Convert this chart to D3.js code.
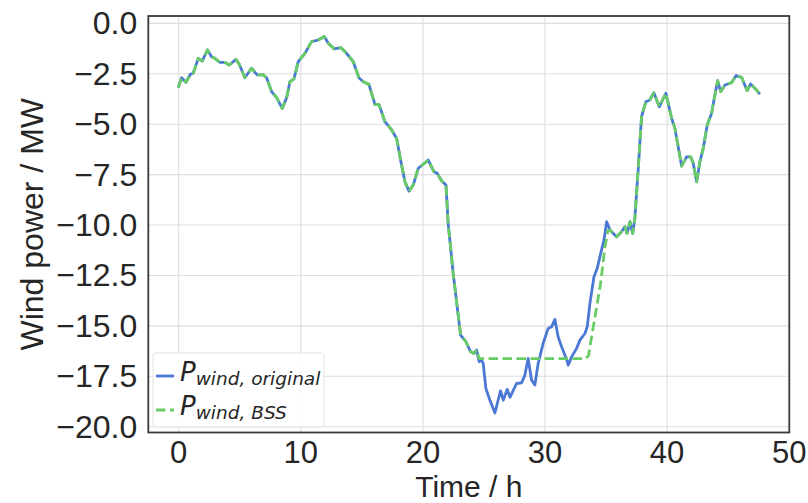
<!DOCTYPE html>
<html lang="en">
    <head>
        <meta charset="UTF-8">
        <title>Wind power</title>
        <script src="https://d3js.org/d3.v7.min.js"></script>
        <style>
            body{ margin: 0; background: white; }
            svg{ display: block; }
        </style>
    </head>
    <body>
        <script>
            // time in hours
            const timeH = [0, 0.28, 0.63, 1.0, 1.23, 1.64, 1.97, 2.4, 2.73, 3.0,
                3.42, 3.82, 4.18, 4.73, 5.0, 5.46, 6.0, 6.47, 6.96, 7.24,
                7.65, 8.06, 8.52, 8.88, 9.15, 9.48, 9.83, 10.38, 10.92, 11.47,
                11.96, 12.29, 12.78, 13.33, 13.79, 14.33, 14.8, 15.15, 15.62, 16.11,
                16.44, 16.93, 17.48, 17.89, 18.24, 18.57, 18.9, 19.25, 19.66, 20.07,
                20.48, 20.94, 21.21, 21.57, 21.93, 22.11, 22.52, 22.85, 23.13, 23.56,
                23.95, 24.22, 24.44, 24.65, 24.85, 24.98, 25.2, 25.53, 25.94, 26.4,
                26.62, 26.95, 27.17, 27.71, 28.12, 28.39, 28.66, 28.94, 29.21, 29.48,
                29.89, 30.3, 30.58, 30.85, 31.12, 31.4, 31.81, 31.94, 32.22, 32.63,
                32.9, 33.31, 33.5, 33.72, 34.05, 34.32, 34.6, 34.87, 35.09, 35.36,
                35.9, 36.31, 36.58, 36.77, 37.0, 37.22, 37.4, 37.67, 37.95, 38.3,
                38.63, 38.96, 39.4, 39.94, 40.41, 40.68, 40.95, 41.23, 41.64, 41.97,
                42.18, 42.46, 42.73, 43.0, 43.33, 43.69, 43.88, 44.18, 44.43, 44.78,
                45.32, 45.68, 46.14, 46.6, 46.88, 47.31, 47.64]

            const windOriginal = [-3.21, -2.72, -2.95, -2.55, -2.5, -1.76, -1.89, -1.34, -1.68, -1.76,
                -1.96, -1.96, -2.09, -1.81, -2.05, -2.72, -2.25, -2.58, -2.58, -2.72,
                -3.41, -3.71, -4.24, -3.71, -2.92, -2.78, -1.92, -1.51, -0.93, -0.85,
                -0.68, -1.01, -1.29, -1.23, -1.51, -1.92, -2.72, -2.92, -3.05, -4.04,
                -4.04, -4.9, -5.31, -5.73, -6.88, -7.88, -8.34, -8.04, -7.21, -7.01,
                -6.8, -7.38, -7.46, -7.83, -8.04, -9.94, -12.42, -14.08, -15.48, -15.81,
                -16.31, -16.39, -16.22, -16.8, -16.72, -16.89, -18.13, -18.71, -19.34, -18.24,
                -18.71, -18.17, -18.57, -17.88, -17.85, -17.47, -16.64, -17.71, -17.96, -16.89,
                -15.89, -15.15, -15.07, -14.7, -15.57, -16.06, -16.69, -16.97, -16.56, -16.14,
                -15.73, -15.4, -15.07, -13.91, -12.59, -12.17, -11.43, -10.77, -9.86, -10.27,
                -10.61, -10.36, -10.11, -10.44, -9.86, -10.44, -9.69, -7.3, -4.65, -3.91,
                -3.82, -3.46, -4.16, -3.49, -4.73, -5.23, -6.14, -7.1, -6.64, -6.64,
                -6.96, -7.88, -6.88, -6.22, -5.06, -4.48, -3.82, -2.87, -3.41, -3.08,
                -2.97, -2.62, -2.7, -3.36, -3.03, -3.29, -3.53]

            // BSS curve: same as original outside this window, flat then ramp inside it
            const bssTime = [24.65, 33.35, 33.6, 34.1, 34.6, 34.95, 35.2]
            const bssValue = [-16.65, -16.65, -16.5, -14.7, -12.9, -11.1, -10.3]

            const xTicks = [0, 10, 20, 30, 40, 50]
            const yTicks = [0, -2.5, -5, -7.5, -10, -12.5, -15, -17.5, -20]

            const W = 808, H = 503
            const plotL = 148.3, plotR = 789.3, plotT = 16, plotB = 432.5
            const font = "Liberation Sans, Arial, sans-serif"

            const svg = d3.select("body")
                        .append("svg")
                        .attr("width", W)
                        .attr("height", H)

            const xScale = d3.scaleLinear().domain([-2.45, 50.05]).range([plotL, plotR])
            const yScale = d3.scaleLinear().domain([-20.31, 0.34]).range([plotB, plotT])

            const fmt = d => (d < 0 ? "\u2212" : "") + Math.abs(d).toFixed(1)

            // grid
            svg.append("g")
                .attr("transform", `translate(0,${plotB})`)
                .call(d3.axisBottom(xScale).tickValues(xTicks.filter(d => d < 50)).tickSize(-(plotB - plotT)).tickFormat(""))
                .call(g => g.select(".domain").remove())
                .selectAll("line").attr("stroke", "#dedede").attr("stroke-width", 1.1)
            svg.append("g")
                .attr("transform", `translate(${plotL},0)`)
                .call(d3.axisLeft(yScale).tickValues(yTicks).tickSize(-(plotR - plotL)).tickFormat(""))
                .call(g => g.select(".domain").remove())
                .selectAll("line").attr("stroke", "#dedede").attr("stroke-width", 1.1)

            // tick labels
            const xAxis = svg.append("g")
                .attr("transform", `translate(0,${plotB})`)
                .call(d3.axisBottom(xScale).tickValues(xTicks).tickSize(0).tickPadding(8).tickFormat(d3.format("d")))
            xAxis.select(".domain").remove()
            xAxis.selectAll("text").attr("font-family", font)
                .attr("font-size", 31).attr("fill", "#262626")

            const yAxis = svg.append("g")
                .attr("transform", `translate(${plotL},0)`)
                .call(d3.axisLeft(yScale).tickValues(yTicks).tickSize(0).tickPadding(11).tickFormat(fmt))
            yAxis.select(".domain").remove()
            yAxis.selectAll("text").attr("font-family", font)
                .attr("font-size", 32).attr("fill", "#262626").attr("dy", "0.34em")

            // axis titles
            svg.append("text")
                .attr("x", (plotL + plotR) / 2)
                .attr("y", 496.5)
                .attr("text-anchor", "middle")
                .attr("font-family", font)
                .attr("font-size", 30).attr("fill", "#262626")
                .text("Time / h")
            svg.append("text")
                .attr("transform", `translate(43,${(plotT + plotB) / 2}) rotate(-90)`)
                .attr("text-anchor", "middle")
                .attr("font-family", font)
                .attr("font-size", 32).attr("fill", "#262626")
                .text("Wind power / MW")

            // series
            const original = timeH.map((t, i) => ({t: t, v: windOriginal[i]}))
            const bss = original.filter(d => d.t < bssTime[0])
                .concat(bssTime.map((t, i) => ({t: t, v: bssValue[i]})))
                .concat(original.filter(d => d.t > bssTime[bssTime.length - 1]))

            const line = d3.line().x(d => xScale(d.t)).y(d => yScale(d.v))

            svg.append("path")
                .datum(original)
                .attr("d", line)
                .attr("fill", "none")
                .attr("stroke", "#4a78d4")
                .attr("stroke-width", 2.8)
                .attr("stroke-linejoin", "round")
            svg.append("path")
                .datum(bss)
                .attr("d", line)
                .attr("fill", "none")
                .attr("stroke", "#6acc64")
                .attr("stroke-width", 2.8)
                .attr("stroke-dasharray", "9.5,4.5")
                .attr("stroke-linejoin", "round")

            // frame
            svg.append("rect")
                .attr("x", plotL).attr("y", plotT)
                .attr("width", plotR - plotL).attr("height", plotB - plotT)
                .attr("fill", "none")
                .attr("stroke", "#3a3a3a")
                .attr("stroke-width", 1.8)

            // legend
            const legend = svg.append("g")
            legend.append("rect")
                .attr("x", 153).attr("y", 353).attr("width", 171).attr("height", 74).attr("rx", 3)
                .attr("fill", "white").attr("fill-opacity", 0.85)
                .attr("stroke", "#e2e2e2").attr("stroke-width", 1)
            const entries = [
                {sub: "wind, original", color: "#4a78d4", dash: null, y: 376},
                {sub: "wind, BSS", color: "#6acc64", dash: "9.5,4.5", y: 410}
            ]
            entries.forEach(e => {
                legend.append("line")
                    .attr("x1", 156).attr("x2", 174).attr("y1", e.y).attr("y2", e.y)
                    .attr("stroke", e.color).attr("stroke-width", 2.8)
                    .attr("stroke-dasharray", e.dash)
                const txt = legend.append("text")
                    .attr("x", 180).attr("y", e.y + 5)
                    .attr("font-family", "DejaVu Sans, sans-serif")
                    .attr("font-style", "italic")
                    .attr("fill", "#262626")
                txt.append("tspan").attr("font-size", 26).text("P")
                txt.append("tspan").attr("font-size", 18.5).attr("dy", 4).text(e.sub)
            })
        </script>
    </body>
</html>
